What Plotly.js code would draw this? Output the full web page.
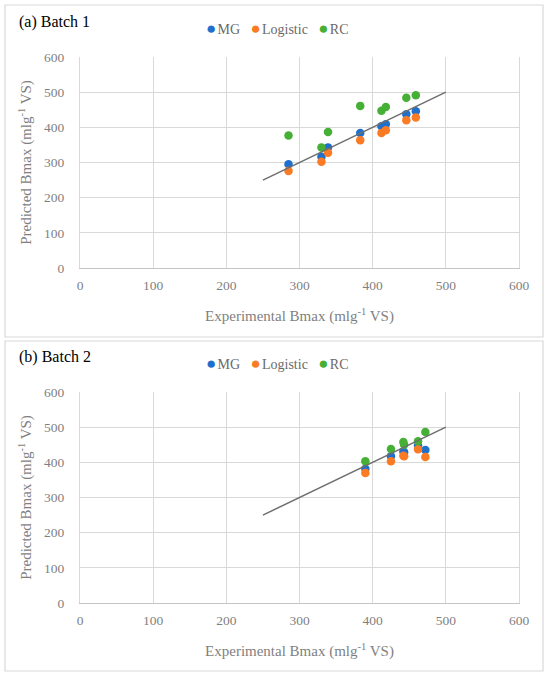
<!DOCTYPE html>
<html>
<head>
<meta charset="utf-8">
<script src="https://cdn.plot.ly/plotly-3.0.1.min.js"></script>
<style>html,body{margin:0;padding:0;background:#fff;}#chart{width:550px;height:678px;}</style>
</head>
<body>
<div id="chart"></div>
<script>
// ---- data ----
const seriesNames = ["MG", "Logistic", "RC"];
const seriesColors = ["#1f6fcc", "#fa7b24", "#45b035"];
const panelTitles = ["(a) Batch 1", "(b) Batch 2"];

const batch1Exp = [285, 330, 339, 383, 412, 418, 446, 459];
const batch1MG = [295, 316, 343, 384, 403, 409, 437, 446];
const batch1Logistic = [276, 302, 328, 363, 384, 392, 420, 428];
const batch1RC = [377, 343, 387, 461, 447, 458, 484, 491];

const batch2Exp = [390, 425, 442, 443, 462, 472];
const batch2MG = [382, 417, 431, 429, 448, 435];
const batch2Logistic = [370, 403, 419, 417, 437, 415];
const batch2RC = [403, 438, 458, 450, 460, 486];

const refLineX = [250, 500];
const refLineY = [250, 500];

const axisTicks = [0, 100, 200, 300, 400, 500, 600];
const xTitle = "Experimental Bmax (mlg<sup>-1</sup> VS)";
const yTitle = "Predicted Bmax (mlg<sup>-1</sup> VS)";

// ---- build ----
const W = 550, H = 678;
const FONT = "Liberation Serif, Times New Roman, serif";
const GRAY = "#7f7f7f";
const GRID = "#d9d9d9";
const px = v => v / W;
const py = v => 1 - v / H;

const batches = [
  {exp: batch1Exp, vals: [batch1MG, batch1Logistic, batch1RC]},
  {exp: batch2Exp, vals: [batch2MG, batch2Logistic, batch2RC]}
];

const traces = [];
batches.forEach((b, i) => {
  const xa = i === 0 ? "x" : "x2";
  const ya = i === 0 ? "y" : "y2";
  b.vals.forEach((v, k) => {
    traces.push({
      type: "scatter", mode: "markers", x: b.exp, y: v,
      xaxis: xa, yaxis: ya, name: seriesNames[k], showlegend: false,
      marker: {color: seriesColors[k], size: 8.5}
    });
  });
  traces.push({
    type: "scatter", mode: "lines", x: refLineX, y: refLineY,
    xaxis: xa, yaxis: ya, showlegend: false,
    line: {color: "#6e6e6e", width: 1.5}
  });
});

function xaxis(anchor) {
  return {
    anchor: anchor, domain: [px(80), px(519)], range: [0, 600],
    tickvals: axisTicks, ticktext: axisTicks.map(String),
    showgrid: true, gridcolor: GRID, gridwidth: 1,
    showline: true, linecolor: "#c4c4c4", linewidth: 1, mirror: false,
    zeroline: false, ticks: "", ticklabelstandoff: 5,
    tickfont: {family: FONT, size: 13.5, color: GRAY},
    title: {text: xTitle, font: {family: FONT, size: 15, color: GRAY}, standoff: 18},
    automargin: false, fixedrange: true
  };
}
function yaxis(anchor, dom) {
  return {
    anchor: anchor, domain: dom, range: [0, 600],
    tickvals: axisTicks, ticktext: axisTicks.map(String),
    showgrid: true, gridcolor: GRID, gridwidth: 1,
    showline: true, linecolor: GRID, linewidth: 1, mirror: true,
    zeroline: false, ticks: "", ticklabelstandoff: 12,
    tickfont: {family: FONT, size: 13.5, color: GRAY},
    title: {text: yTitle, font: {family: FONT, size: 15, color: GRAY}, standoff: 8},
    automargin: false, fixedrange: true
  };
}

const panelOffset = 335;
const shapes = [];
const annotations = [];
const legendText = seriesNames.map((n, k) =>
  '<span style="color:' + seriesColors[k] + ';font-size:17px">●</span>&#8202;' + n).join("&nbsp;&nbsp;&nbsp;");
[0, 1].forEach(i => {
  const off = i * panelOffset;
  shapes.push({
    type: "rect", xref: "paper", yref: "paper",
    x0: px(5), x1: px(543), y0: py(336 + off + (i ? 0 : 1)), y1: py(5 + off + (i ? 1 : 0)),
    line: {color: GRID, width: 1.2}, fillcolor: "rgba(0,0,0,0)", layer: "below"
  });
  annotations.push({
    xref: "paper", yref: "paper", x: px(17), y: py(22 + off),
    xanchor: "left", yanchor: "middle", showarrow: false,
    text: panelTitles[i], font: {family: FONT, size: 16, color: "#000"}
  });
  annotations.push({
    xref: "paper", yref: "paper", x: px(277), y: py(28 + off),
    xanchor: "center", yanchor: "middle", showarrow: false,
    text: legendText, font: {family: FONT, size: 14, color: "#6a6a6a"}
  });
});

const layout = {
  width: W, height: H,
  margin: {l: 0, r: 0, t: 0, b: 0},
  paper_bgcolor: "#fff", plot_bgcolor: "#fff",
  showlegend: false,
  xaxis: xaxis("y"),
  yaxis: yaxis("x", [py(268), py(57)]),
  xaxis2: xaxis("y2"),
  yaxis2: yaxis("x2", [py(268 + panelOffset), py(57 + panelOffset)]),
  shapes: shapes,
  annotations: annotations
};

Plotly.newPlot("chart", traces, layout, {displayModeBar: false, staticPlot: true});
</script>
</body>
</html>
